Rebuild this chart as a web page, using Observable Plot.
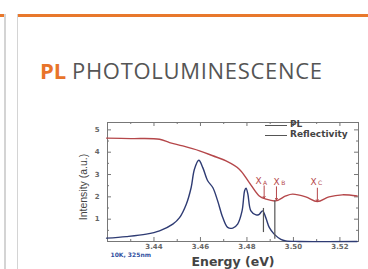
<!DOCTYPE html>
<html><head><meta charset="utf-8">
<script src="https://cdn.jsdelivr.net/npm/d3@7"></script>
<script src="https://cdn.jsdelivr.net/npm/@observablehq/plot@0.6"></script>
<style>
html,body{margin:0;padding:0;background:#fff;width:368px;height:269px;overflow:hidden;position:relative;}
.bar{position:absolute;background:#e8782c;height:3px;top:14px}
.vline{position:absolute;top:14px;bottom:0;width:1.5px;background:#d4d4d4}
#title{position:absolute;left:40px;top:59px;font-family:"Open Sans",sans-serif;font-size:22px;color:#555;white-space:nowrap;line-height:1}
#title b{color:#e8742a;font-weight:700}
#title span{letter-spacing:0.7px}
#chart{position:absolute;left:60px;top:110px}
.lg{position:absolute;font-family:"DejaVu Sans";font-weight:bold;font-size:9px;color:#444;line-height:1;white-space:nowrap}
.lgline{position:absolute;height:1.2px;background:#555;width:22px}
</style>
</head><body>
<div class="bar" style="left:0;width:5px"></div>
<div class="bar" style="left:17px;right:0"></div>
<div class="vline" style="left:4px"></div>
<div class="vline" style="left:16.5px"></div>
<div id="title"><b>PL</b> <span>PHOTOLUMINESCENCE</span></div>
<div id="chart"></div>
<div class="lgline" style="left:265px;top:124.5px"></div>
<div class="lgline" style="left:265px;top:134.5px"></div>
<div class="lg" style="left:290px;top:120px">PL</div>
<div class="lg" style="left:290px;top:130px">Reflectivity</div>
<script>
// Reflectivity curve (red)
const reflEnergy = [3.4196, 3.4300, 3.4424, 3.4467, 3.4524, 3.4596, 3.4653, 3.4710, 3.4767, 3.4810, 3.4853, 3.4881, 3.4924, 3.4967, 3.4996, 3.5053, 3.5103, 3.5153, 3.5210, 3.5274];
const reflValue  = [4.63, 4.61, 4.58, 4.43, 4.28, 4.06, 3.84, 3.61, 3.24, 2.64, 2.04, 1.90, 1.82, 2.04, 2.12, 2.00, 1.79, 2.00, 2.09, 2.04];
// PL curve (blue)
const plEnergy = [3.4196, 3.4281, 3.4367, 3.4424, 3.4481, 3.4510, 3.4539, 3.4560, 3.4574, 3.4593, 3.4610, 3.4631, 3.4653, 3.4674, 3.4696, 3.4717, 3.4739, 3.4760, 3.4779, 3.4790, 3.4796, 3.4804, 3.4817, 3.4839, 3.4853, 3.4867, 3.4881, 3.4896, 3.4917, 3.4946, 3.4967, 3.5024, 3.5274];
const plValue  = [0.15, 0.22, 0.33, 0.48, 0.78, 1.07, 1.67, 2.42, 3.24, 3.64, 3.31, 2.72, 2.42, 1.82, 1.07, 0.63, 0.60, 0.78, 1.37, 2.27, 2.39, 2.12, 1.37, 1.19, 1.22, 1.37, 1.07, 0.63, 0.33, 0.10, 0.03, 0.00, 0.00];
// Exciton markers
const excitonName   = ["A", "B", "C"];
const excitonEnergy = [3.4874, 3.4927, 3.5103];
const arrowTop      = [2.49, 2.45, 2.39];
const arrowBottom   = [1.94, 1.85, 1.79];
const labelEnergy   = [3.4850, 3.4928, 3.5087];
const labelY        = [2.70, 2.68, 2.68];
// vertical gray lines (X_A, X_B)
const lineEnergy = [3.4871, 3.4920];
const lineLow    = [0.40, 0.10];
const lineHigh   = [1.48, 1.82];
// ticks
const xTicks = [3.44, 3.46, 3.48, 3.50, 3.52];
const xMinor = [3.43, 3.45, 3.47, 3.49, 3.51];
const yTicks = [1, 2, 3, 4, 5];
const yMinor = [0.5, 1.5, 2.5, 3.5, 4.5];
const xLabel = ["Energy (eV)"];
const yLabel = ["Intensity (a.u.)"];
const note = ["10K, 325nm"];

const refl = reflEnergy.map((e, i) => ({e, v: reflValue[i]}));
const pl = plEnergy.map((e, i) => ({e, v: plValue[i]}));
const excitons = excitonName.map((n, i) => ({n, e: excitonEnergy[i], top: arrowTop[i], bot: arrowBottom[i], lx: labelEnergy[i], ly: labelY[i]}));
const vlines = lineEnergy.map((e, i) => ({e, lo: lineLow[i], hi: lineHigh[i]}));

const W = 300, H = 159, ML = 47, MR = 2, MT = 12, MB = 28;
const iW = W - ML - MR, iH = H - MT - MB;
const frameColor = "#777", red = "#b5474a", blue = "#2e3b73";

const chart = Plot.plot({
  width: W, height: H, marginLeft: ML, marginRight: MR, marginTop: MT, marginBottom: MB,
  x: {domain: [3.42, 3.528]},
  y: {domain: [0, 5.33]},
  style: {fontFamily: "DejaVu Sans", fontWeight: "bold", fontSize: "7px", color: "#555", background: "transparent"},
  marks: [
    Plot.frame({stroke: frameColor}),
    Plot.ruleX(xTicks, {insetTop: iH - 4, stroke: frameColor}),
    Plot.ruleX(xTicks, {insetBottom: iH - 4, stroke: frameColor}),
    Plot.ruleX(xMinor, {insetTop: iH - 2, stroke: frameColor}),
    Plot.ruleX(xMinor, {insetBottom: iH - 2, stroke: frameColor}),
    Plot.ruleY(yTicks, {insetRight: iW - 4, stroke: frameColor}),
    Plot.ruleY(yTicks, {insetLeft: iW - 4, stroke: frameColor}),
    Plot.ruleY(yMinor, {insetRight: iW - 2, stroke: frameColor}),
    Plot.ruleY(yMinor, {insetLeft: iW - 2, stroke: frameColor}),
    Plot.axisX({ticks: xTicks, tickSize: 0, tickPadding: 2.5, tickFormat: d3.format(".2f"), label: null, fill: "#666"}),
    Plot.axisY({ticks: yTicks, tickSize: 0, tickPadding: 8, tickFormat: d3.format("d"), label: null, fill: "#666"}),
    Plot.line(refl, {x: "e", y: "v", stroke: red, strokeWidth: 1.4, curve: "catmull-rom"}),
    Plot.line(pl, {x: "e", y: "v", stroke: blue, strokeWidth: 1.4, curve: "catmull-rom"}),
    Plot.ruleX(vlines, {x: "e", y1: "lo", y2: "hi", stroke: "#555", strokeWidth: 1.2}),
    Plot.arrow(excitons, {x1: "e", x2: "e", y1: "top", y2: "bot", stroke: red, strokeWidth: 1, headLength: 3}),
    Plot.text(excitons, {x: "lx", y: "ly", text: () => "X", fill: red, fontSize: 9, fontWeight: "normal"}),
    Plot.text(excitons, {x: "lx", y: "ly", text: "n", dx: 6.5, dy: 1.5, fill: red, fontSize: 6, fontWeight: "normal"}),
    Plot.text(note, {frameAnchor: "bottom-left", dx: 3, dy: 14, textAnchor: "start", lineAnchor: "middle", fill: "#3050a0", fontSize: 6}),
    Plot.text(xLabel, {frameAnchor: "bottom", dy: 20, lineAnchor: "middle", fill: "#444", fontSize: 12.5}),
    Plot.text(yLabel, {frameAnchor: "left", rotate: -90, dx: -24, dy: 5, textAnchor: "middle", lineAnchor: "middle", fill: "#444", fontSize: 10.5, fontWeight: "normal", fontFamily: "Liberation Sans"})
  ]
});
document.getElementById("chart").appendChild(chart);
</script>
</body></html>
